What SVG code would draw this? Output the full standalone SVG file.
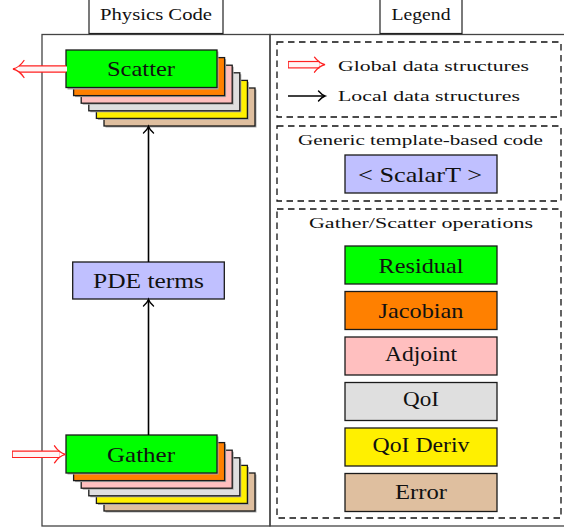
<svg xmlns="http://www.w3.org/2000/svg" width="564" height="529" viewBox="0 0 564 529" font-family="Liberation Serif, DejaVu Serif, serif">
<style>
text{font-family:"Liberation Serif","DejaVu Serif",serif;fill:#111}
.t{font-size:16px}
.s{font-size:15.5px}
.l{font-size:22px}
.frame{fill:none;stroke:#444;stroke-width:1.3}
.title{fill:#fff;stroke:#222;stroke-width:1.2}
.dash{fill:none;stroke:#111;stroke-width:1.3;stroke-dasharray:6.5,4.5}
.box{stroke:#1a1a1a;stroke-width:1.3}
.sh{fill:#aaa}
.g{fill:#00ff00}.o{fill:#ff8000}.p{fill:#ffbfbf}.q{fill:#dfdfdf}.y{fill:#fff000}.b{fill:#dfbf9f}.v{fill:#c0c0ff}
.conn{stroke:#000;stroke-width:1.6;fill:none}
.ah{stroke:#000;stroke-width:1.4;fill:none;stroke-linecap:round}
.rw{stroke:#ff2020;stroke-width:7.6;fill:none}
.rin{stroke:#fff4f4;stroke-width:5.2;fill:none}
.rh{stroke:#ff2020;stroke-width:1.3;fill:none;stroke-linecap:round}
</style>

<g id="frames">
<rect class="frame" x="42" y="34.5" width="228" height="491.5"/>
<rect class="frame" x="270" y="34.5" width="298" height="491.5"/>
</g>

<g id="title-physics">
<rect class="title" x="89" y="-2" width="134" height="35.5"/>
<text class="t" x="156" y="20" text-anchor="middle" textLength="112" lengthAdjust="spacingAndGlyphs" font-family="Liberation Serif">Physics Code</text>
</g>
<g id="title-legend">
<rect class="title" x="380" y="-2" width="82" height="35.5"/>
<text class="t" x="421" y="20" text-anchor="middle" textLength="59" lengthAdjust="spacingAndGlyphs">Legend</text>
</g>

<g id="scatter">
<rect class="sh" x="105.5" y="89.5" width="151" height="38"/><rect class="box b" x="104" y="88" width="151" height="38"/>
<rect class="sh" x="97.9" y="81.9" width="151" height="38"/><rect class="box y" x="96.4" y="80.4" width="151" height="38"/>
<rect class="sh" x="90.3" y="74.3" width="151" height="38"/><rect class="box q" x="88.8" y="72.8" width="151" height="38"/>
<rect class="sh" x="82.7" y="66.7" width="151" height="38"/><rect class="box p" x="81.2" y="65.2" width="151" height="38"/>
<rect class="sh" x="75.1" y="59.1" width="151" height="38"/><rect class="box o" x="73.6" y="57.6" width="151" height="38"/>
<rect class="sh" x="67.5" y="51.5" width="151" height="38"/><rect class="box g" x="66" y="50" width="151" height="37.5"/>
<text class="l" x="141" y="75.5" text-anchor="middle" textLength="68" lengthAdjust="spacingAndGlyphs">Scatter</text>
</g>

<g id="pde-terms">
<rect class="box v" x="72.7" y="262" width="151.6" height="37"/>
<text class="l" x="148.5" y="288" text-anchor="middle" textLength="111" lengthAdjust="spacingAndGlyphs">PDE terms</text>
</g>

<g id="gather">
<rect class="sh" x="105.5" y="474.5" width="151" height="38"/><rect class="box b" x="104" y="473" width="151" height="38"/>
<rect class="sh" x="97.9" y="466.9" width="151" height="38"/><rect class="box y" x="96.4" y="465.4" width="151" height="38"/>
<rect class="sh" x="90.3" y="459.3" width="151" height="38"/><rect class="box q" x="88.8" y="457.8" width="151" height="38"/>
<rect class="sh" x="82.7" y="451.7" width="151" height="38"/><rect class="box p" x="81.2" y="450.2" width="151" height="38"/>
<rect class="sh" x="75.1" y="444.1" width="151" height="38"/><rect class="box o" x="73.6" y="442.6" width="151" height="38"/>
<rect class="sh" x="67.5" y="436.5" width="151" height="38"/><rect class="box g" x="66" y="435" width="151" height="38"/>
<text class="l" x="141" y="461.7" text-anchor="middle" textLength="68" lengthAdjust="spacingAndGlyphs">Gather</text>
</g>

<g id="connectors">
<line class="conn" x1="148.5" y1="262" x2="148.5" y2="127"/>
<path class="ah" d="M143.5,133 Q147.5,129.5 148.5,126.5 Q149.5,129.5 153.5,133"/>
<line class="conn" x1="148.5" y1="435" x2="148.5" y2="300"/>
<path class="ah" d="M143.5,306 Q147.5,302.5 148.5,299.5 Q149.5,302.5 153.5,306"/>
<line class="rw" x1="66" y1="69" x2="19" y2="69"/>
<line class="rin" x1="67" y1="69" x2="19" y2="69"/>
<path class="rh" d="M24,60.5 C21,65 17,68 13,69 C17,70 21,73 24,77.5"/>
<line class="rw" x1="12" y1="454.3" x2="59.5" y2="454.3"/>
<line class="rin" x1="12.8" y1="454.3" x2="59.5" y2="454.3"/>
<path class="rh" d="M54.5,445.8 C57.5,450.3 61.5,453.3 65.5,454.3 C61.5,455.3 57.5,458.3 54.5,462.8"/>
</g>

<g id="legend-arrows">
<rect class="dash" x="277" y="42" width="284" height="75"/>
<line class="rw" x1="288" y1="64.7" x2="319.5" y2="64.7"/>
<line class="rin" x1="288.8" y1="64.7" x2="319.5" y2="64.7"/>
<path class="rh" d="M314.5,57.2 C317.5,61.2 321,63.8 325,64.7 C321,65.6 317.5,68.2 314.5,72.2"/>
<text class="s" x="338" y="71" textLength="191" lengthAdjust="spacingAndGlyphs">Global data structures</text>
<line class="conn" x1="288" y1="96" x2="324" y2="96"/>
<path class="ah" d="M318.5,91 Q322,95 325,96 Q322,97 318.5,101"/>
<text class="s" x="338" y="101" textLength="182" lengthAdjust="spacingAndGlyphs">Local data structures</text>
</g>

<g id="legend-generic">
<rect class="dash" x="277" y="126" width="284" height="75"/>
<text class="s" x="420.5" y="145" text-anchor="middle" textLength="245" lengthAdjust="spacingAndGlyphs">Generic template-based code</text>
<rect class="box v" x="345" y="155" width="152" height="38"/>
<text class="l" x="420" y="182" text-anchor="middle" textLength="124" lengthAdjust="spacingAndGlyphs">&lt; ScalarT &gt;</text>
</g>

<g id="legend-ops">
<rect class="dash" x="277" y="209" width="284" height="309"/>
<text class="s" x="421" y="228" text-anchor="middle" textLength="224" lengthAdjust="spacingAndGlyphs">Gather/Scatter operations</text>
</g>
<g id="op-residual"><rect class="box g" x="345" y="246" width="152" height="38"/><text class="l" x="421" y="273" text-anchor="middle" textLength="85" lengthAdjust="spacingAndGlyphs">Residual</text></g>
<g id="op-jacobian"><rect class="box o" x="345" y="291.5" width="152" height="38"/><text class="l" x="421" y="317.5" text-anchor="middle" textLength="85" lengthAdjust="spacingAndGlyphs">Jacobian</text></g>
<g id="op-adjoint"><rect class="box p" x="345" y="337" width="152" height="38"/><text class="l" x="421" y="361" text-anchor="middle" textLength="72" lengthAdjust="spacingAndGlyphs">Adjoint</text></g>
<g id="op-qoi"><rect class="box q" x="345" y="382.5" width="152" height="38"/><text class="l" x="421" y="406" text-anchor="middle" textLength="36" lengthAdjust="spacingAndGlyphs">QoI</text></g>
<g id="op-qoi-deriv"><rect class="box y" x="345" y="428" width="152" height="38"/><text class="l" x="421" y="451.7" text-anchor="middle" textLength="97" lengthAdjust="spacingAndGlyphs">QoI Deriv</text></g>
<g id="op-error"><rect class="box b" x="345" y="473.5" width="152" height="38"/><text class="l" x="421" y="499.3" text-anchor="middle" textLength="52" lengthAdjust="spacingAndGlyphs">Error</text></g>
</svg>
